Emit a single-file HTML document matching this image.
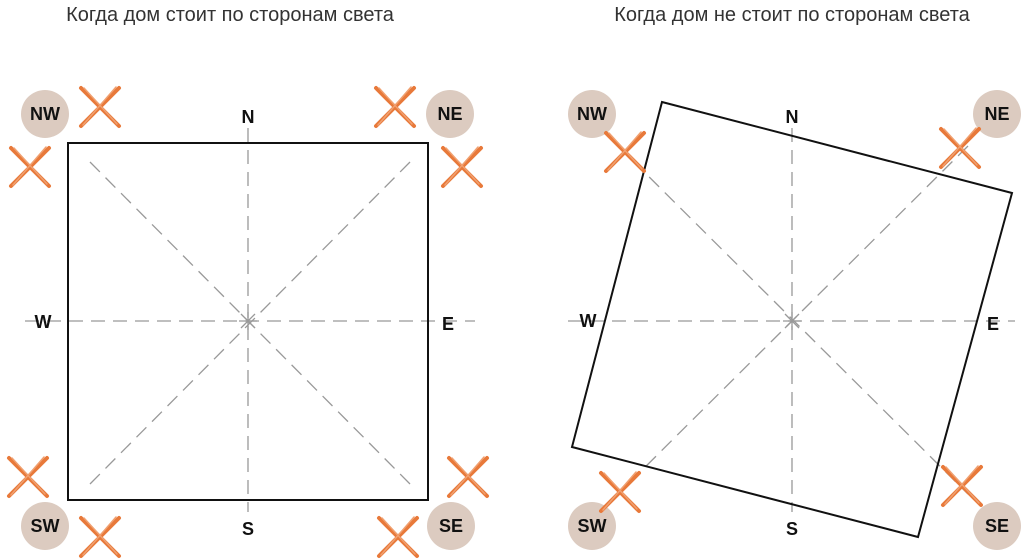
<!DOCTYPE html>
<html><head><meta charset="utf-8"><style>
html,body{margin:0;padding:0;background:#fff;width:1024px;height:560px;overflow:hidden}
svg{display:block}
</style></head><body>
<svg width="1024" height="560" viewBox="0 0 1024 560" xmlns="http://www.w3.org/2000/svg">
<defs>
<g id="x"><path d="M-19,-19 L19,19 M19,-19 L-19,19" stroke="#e8793a" stroke-width="4" stroke-linecap="round"/><path d="M-16,-19 L17,17 M16,-20 L-17,18" stroke="#f0a070" stroke-width="1.5" stroke-linecap="round"/></g>
</defs>
<g font-family="Liberation Sans, Noto Sans CJK SC, sans-serif" font-size="20" fill="#333" text-anchor="middle">
<text x="230" y="21">Когда дом стоит по сторонам света</text>
<text x="792" y="21">Когда дом не стоит по сторонам света</text>
</g>
<g stroke="#999" stroke-width="1.3" stroke-dasharray="14,8" fill="none">
<line x1="248" y1="128" x2="248" y2="512"/><line x1="25" y1="321" x2="475" y2="321"/>
<line x1="90" y1="162" x2="410" y2="484"/><line x1="410" y1="162" x2="90" y2="484"/>
<line x1="792" y1="128" x2="792" y2="512"/><line x1="568" y1="321" x2="1015" y2="321"/>
<line x1="618" y1="146" x2="968" y2="494"/><line x1="968" y1="146" x2="618" y2="494"/>
</g>
<g stroke="#999" stroke-width="1.3"><path d="M241,314 l14,14 M255,314 l-14,14 M248,312 v18 M239,321 h18"/><path d="M785,314 l14,14 M799,314 l-14,14 M792,312 v18 M783,321 h18"/></g>
<rect x="68" y="143" width="360" height="357" fill="none" stroke="#111" stroke-width="2"/>
<polygon points="662,102 1012,193 918,537 572,447" fill="none" stroke="#111" stroke-width="2"/>
<g fill="#dccbc0">
<circle cx="45" cy="114" r="24"/><circle cx="450" cy="114" r="24"/><circle cx="45" cy="526" r="24"/><circle cx="451" cy="526" r="24"/>
<circle cx="592" cy="114" r="24"/><circle cx="997" cy="114" r="24"/><circle cx="592" cy="526" r="24"/><circle cx="997" cy="526" r="24"/>
</g>
<g font-family="Liberation Sans, sans-serif" font-weight="bold" font-size="18" fill="#111" text-anchor="middle">
<text x="45" y="120">NW</text><text x="450" y="120">NE</text><text x="45" y="532">SW</text><text x="451" y="532">SE</text>
<text x="592" y="120">NW</text><text x="997" y="120">NE</text><text x="592" y="532">SW</text><text x="997" y="532">SE</text>
<text x="248" y="123">N</text><text x="248" y="535">S</text><text x="43" y="328">W</text><text x="448" y="330">E</text>
<text x="792" y="123">N</text><text x="792" y="535">S</text><text x="588" y="327">W</text><text x="993" y="330">E</text>
</g>
<use href="#x" x="100" y="107"/><use href="#x" x="30" y="167"/><use href="#x" x="395" y="107"/><use href="#x" x="462" y="167"/>
<use href="#x" x="28" y="477"/><use href="#x" x="100" y="537"/><use href="#x" x="398" y="537"/><use href="#x" x="468" y="477"/>
<use href="#x" x="625" y="152"/><use href="#x" x="960" y="148"/><use href="#x" x="620" y="492"/><use href="#x" x="962" y="486"/>
</svg>
</body></html>
